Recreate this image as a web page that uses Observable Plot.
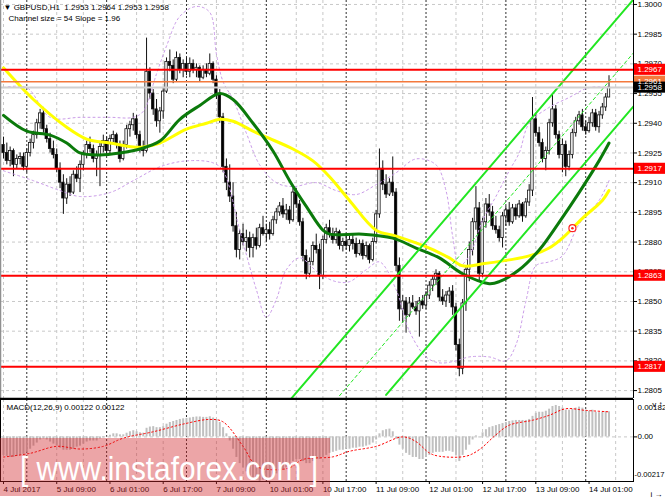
<!DOCTYPE html>
<html><head><meta charset="utf-8">
<script src="https://cdn.jsdelivr.net/npm/d3@7"></script>
<script src="https://cdn.jsdelivr.net/npm/@observablehq/plot@0.6"></script>
<style>
body{margin:0;background:#fff;}
#wrap{position:relative;width:665px;height:499px;overflow:hidden;}
#wrap svg{display:block}
#wm{position:absolute;left:0;top:438px;}
</style></head><body>
<div id="wrap"><div id="main"></div><div id="macd"></div>
<svg id="wm" width="330" height="60"><rect width="330" height="58" fill="rgb(210,40,45)" fill-opacity="0.42"></rect><text x="20" y="42" font-size="34" fill="#fff" textLength="298" lengthAdjust="spacingAndGlyphs" font-family="Liberation Sans, Arial, sans-serif">[ www.instaforex.com ]</text></svg>
</div>
<script>
// ---------- DATA (GBPUSD H1, bar 0 = 4 Jul 2017 17:00) ----------
const barOpen = [1.2929,1.2925,1.2921,1.2926,1.2919,1.2922,1.2923,1.2918,
1.2925,1.2930,1.2934,1.2940,1.2945,1.2937,1.2932,1.2927,
1.2924,1.2917,1.2910,1.2902,1.2909,1.2905,1.2914,1.2912,
1.2919,1.2924,1.2929,1.2927,1.2922,1.2924,1.2928,1.2931,
1.2926,1.2932,1.2934,1.2929,1.2922,1.2929,1.2937,1.2939,
1.2942,1.2934,1.2928,1.2926,1.2966,1.2955,1.2947,1.2941,
1.2946,1.2956,1.2971,1.2969,1.2962,1.2973,1.2967,1.2970,
1.2966,1.2970,1.2967,1.2968,1.2963,1.2967,1.2965,1.2970,
1.2962,1.2954,1.2943,1.2918,1.2910,1.2903,1.2888,1.2876,
1.2884,1.2880,1.2882,1.2877,1.2882,1.2878,1.2887,1.2884,
1.2886,1.2884,1.2891,1.2895,1.2898,1.2894,1.2896,1.2891,
1.2905,1.2899,1.2890,1.2873,1.2864,1.2870,1.2878,1.2876,
1.2863,1.2881,1.2887,1.2884,1.2881,1.2885,1.2878,1.2880,
1.2878,1.2881,1.2879,1.2874,1.2879,1.2873,1.2878,1.2871,
1.2880,1.2894,1.2917,1.2909,1.2904,1.2910,1.2905,1.2868,
1.2846,1.2850,1.2843,1.2849,1.2847,1.2845,1.2850,1.2848,
1.2853,1.2858,1.2861,1.2864,1.2852,1.2850,1.2853,1.2855,
1.2847,1.2828,1.2816,1.2849,1.2866,1.2876,1.2890,1.2897,
1.2864,1.2890,1.2899,1.2895,1.2888,1.2886,1.2882,1.2893,
1.2896,1.2890,1.2897,1.2893,1.2899,1.2893,1.2900,1.2906,
1.2942,1.2935,1.2930,1.2922,1.2926,1.2940,1.2947,1.2934,
1.2924,1.2929,1.2918,1.2924,1.2935,1.2941,1.2944,1.2938,
1.2936,1.2940,1.2945,1.2938,1.2944,1.2948,1.2953];
const barHigh = [1.2933,1.2930,1.2928,1.2927,1.2924,1.2925,1.2925,1.2927,
1.2932,1.2936,1.2942,1.2947,1.2948,1.2939,1.2935,1.2931,
1.2927,1.2920,1.2914,1.2912,1.2913,1.2916,1.2918,1.2921,
1.2926,1.2931,1.2933,1.2929,1.2926,1.2930,1.2934,1.2933,
1.2934,1.2936,1.2935,1.2931,1.2931,1.2939,1.2941,1.2945,
1.2944,1.2936,1.2931,1.2983,1.2968,1.2957,1.2952,1.2948,
1.2958,1.2973,1.2977,1.2972,1.2976,1.2975,1.2972,1.2973,
1.2973,1.2972,1.2970,1.2969,1.2969,1.2970,1.2975,1.2971,
1.2964,1.2957,1.2945,1.2922,1.2919,1.2910,1.2895,1.2886,
1.2889,1.2886,1.2885,1.2884,1.2887,1.2889,1.2893,1.2889,
1.2890,1.2893,1.2897,1.2900,1.2902,1.2899,1.2898,1.2907,
1.2907,1.2901,1.2892,1.2876,1.2872,1.2880,1.2884,1.2879,
1.2883,1.2889,1.2891,1.2887,1.2887,1.2886,1.2882,1.2884,
1.2883,1.2884,1.2882,1.2881,1.2881,1.2880,1.2879,1.2882,
1.2896,1.2927,1.2921,1.2914,1.2912,1.2923,1.2907,1.2872,
1.2853,1.2852,1.2852,1.2853,1.2850,1.2852,1.2853,1.2855,
1.2860,1.2863,1.2866,1.2865,1.2856,1.2855,1.2857,1.2858,
1.2849,1.2831,1.2851,1.2868,1.2880,1.2892,1.2908,1.2900,
1.2892,1.2902,1.2904,1.2898,1.2893,1.2888,1.2895,1.2898,
1.2900,1.2899,1.2899,1.2901,1.2900,1.2902,1.2909,1.2953,
1.2945,1.2938,1.2932,1.2928,1.2942,1.2955,1.2949,1.2936,
1.2932,1.2931,1.2926,1.2937,1.2943,1.2946,1.2947,1.2941,
1.2943,1.2947,1.2947,1.2946,1.2950,1.2955,1.2964];
const barLow = [1.2922,1.2919,1.2918,1.2913,1.2917,1.2919,1.2916,1.2915,
1.2923,1.2927,1.2932,1.2937,1.2935,1.2930,1.2925,1.2922,
1.2915,1.2907,1.2894,1.2899,1.2903,1.2904,1.2910,1.2905,
1.2916,1.2922,1.2925,1.2920,1.2913,1.2908,1.2925,1.2924,
1.2924,1.2929,1.2927,1.2920,1.2921,1.2927,1.2933,1.2936,
1.2932,1.2925,1.2923,1.2925,1.2952,1.2944,1.2938,1.2935,
1.2942,1.2955,1.2966,1.2960,1.2961,1.2965,1.2963,1.2964,
1.2963,1.2965,1.2963,1.2961,1.2962,1.2963,1.2964,1.2960,
1.2952,1.2940,1.2915,1.2906,1.2900,1.2885,1.2872,1.2871,
1.2878,1.2875,1.2872,1.2872,1.2876,1.2877,1.2883,1.2880,
1.2881,1.2883,1.2889,1.2893,1.2892,1.2891,1.2889,1.2890,
1.2897,1.2888,1.2870,1.2861,1.2862,1.2868,1.2874,1.2856,
1.2861,1.2879,1.2882,1.2879,1.2879,1.2876,1.2875,1.2876,
1.2875,1.2876,1.2872,1.2873,1.2871,1.2872,1.2869,1.2870,
1.2879,1.2892,1.2906,1.2902,1.2903,1.2903,1.2865,1.2840,
1.2839,1.2834,1.2842,1.2846,1.2843,1.2832,1.2846,1.2846,
1.2851,1.2855,1.2858,1.2850,1.2848,1.2847,1.2849,1.2843,
1.2825,1.2812,1.2813,1.2845,1.2860,1.2873,1.2886,1.2860,
1.2862,1.2887,1.2893,1.2886,1.2884,1.2880,1.2877,1.2888,
1.2888,1.2889,1.2891,1.2892,1.2890,1.2892,1.2898,1.2903,
1.2933,1.2928,1.2920,1.2916,1.2924,1.2938,1.2932,1.2922,
1.2915,1.2913,1.2916,1.2922,1.2933,1.2939,1.2936,1.2934,
1.2935,1.2938,1.2936,1.2935,1.2942,1.2946,1.2953];
const barClose = [1.2925,1.2921,1.2926,1.2919,1.2922,1.2923,1.2918,1.2925,
1.2930,1.2934,1.2940,1.2945,1.2937,1.2932,1.2927,1.2924,
1.2917,1.2910,1.2902,1.2909,1.2905,1.2914,1.2912,1.2919,
1.2924,1.2929,1.2927,1.2922,1.2924,1.2928,1.2931,1.2926,
1.2932,1.2934,1.2929,1.2922,1.2929,1.2937,1.2939,1.2942,
1.2934,1.2928,1.2926,1.2966,1.2955,1.2947,1.2941,1.2946,
1.2956,1.2971,1.2969,1.2962,1.2973,1.2967,1.2970,1.2966,
1.2970,1.2967,1.2968,1.2963,1.2967,1.2965,1.2970,1.2962,
1.2954,1.2943,1.2918,1.2910,1.2903,1.2888,1.2876,1.2884,
1.2880,1.2882,1.2877,1.2882,1.2878,1.2887,1.2884,1.2886,
1.2884,1.2891,1.2895,1.2898,1.2894,1.2896,1.2891,1.2905,
1.2899,1.2890,1.2873,1.2864,1.2870,1.2878,1.2876,1.2863,
1.2881,1.2887,1.2884,1.2881,1.2885,1.2878,1.2880,1.2878,
1.2881,1.2879,1.2874,1.2879,1.2873,1.2878,1.2871,1.2880,
1.2894,1.2917,1.2909,1.2904,1.2910,1.2905,1.2868,1.2846,
1.2850,1.2843,1.2849,1.2847,1.2845,1.2850,1.2848,1.2853,
1.2858,1.2861,1.2864,1.2852,1.2850,1.2853,1.2855,1.2847,
1.2828,1.2816,1.2849,1.2866,1.2876,1.2890,1.2897,1.2864,
1.2890,1.2899,1.2895,1.2888,1.2886,1.2882,1.2893,1.2896,
1.2890,1.2897,1.2893,1.2899,1.2893,1.2900,1.2906,1.2942,
1.2935,1.2930,1.2922,1.2926,1.2940,1.2947,1.2934,1.2924,
1.2929,1.2918,1.2924,1.2935,1.2941,1.2944,1.2938,1.2936,
1.2940,1.2945,1.2938,1.2944,1.2948,1.2953,1.2958];

// moving averages and bands read at sample bars: [bar, price]
const maYellow = [[0,1.2968],[9,1.2952],[19,1.2938],[25,1.2932],[32,1.2930],[39,1.2928],[42,1.2928],[47,1.2930],[55,1.2937],[61,1.2940],[65,1.2942],[69,1.2941],[75,1.2936],[79,1.2933],[87,1.2927],[93,1.2921],[98,1.2913],[104,1.2901],[112,1.2886],[118,1.2883],[128,1.2877],[134,1.2872],[138,1.2868],[144,1.2869],[152,1.2871],[158,1.2873],[164,1.2877],[168,1.2882],[174,1.2892],[180,1.2901],[182,1.2906]];
const maGreen = [[0,1.2944],[7,1.2936],[14,1.2934],[19,1.2930],[23,1.2925],[29,1.2924],[35,1.2925],[41,1.2927],[47,1.2931],[53,1.2942],[59,1.2949],[65,1.2955],[69,1.2952],[75,1.2940],[81,1.2926],[86,1.2911],[91,1.2898],[96,1.2886],[98,1.2884],[108,1.2884],[117,1.2882],[124,1.2877],[131,1.2872],[138,1.2864],[146,1.2859],[149,1.2860],[155,1.2866],[161,1.2876],[167,1.2890],[173,1.2905],[179,1.2921],[182,1.2930]];
const bandUpper = [[0,1.2958],[7,1.2958],[14,1.2943],[23,1.2943],[32,1.2943],[39,1.2943],[42,1.2946],[46,1.2965],[49,1.2979],[53,1.2994],[58,1.2999],[62,1.2996],[64,1.2975],[66,1.2961],[69,1.2952],[73,1.2935],[77,1.2919],[82,1.2910],[87,1.2908],[94,1.2910],[100,1.2906],[106,1.2904],[112,1.2909],[118,1.2915],[124,1.2922],[130,1.2919],[133,1.2906],[135,1.2883],[137,1.2868],[140,1.2873],[144,1.2891],[148,1.2903],[152,1.2916],[155,1.2925],[158,1.2940],[164,1.2948],[170,1.2953],[176,1.2958],[182,1.2958]];
const bandLower = [[0,1.2916],[9,1.2911],[17,1.2906],[23,1.2903],[32,1.2905],[39,1.2911],[47,1.2918],[55,1.2921],[63,1.2920],[66,1.2916],[71,1.2886],[76,1.2856],[79,1.2842],[82,1.2851],[85,1.2866],[89,1.2872],[95,1.2864],[100,1.2860],[104,1.2860],[109,1.2866],[113,1.2870],[118,1.2856],[122,1.2835],[127,1.2822],[131,1.2819],[136,1.2820],[140,1.2822],[146,1.2822],[151,1.2820],[154,1.2828],[157,1.2850],[160,1.2868],[164,1.2870],[168,1.2873],[173,1.2889],[179,1.2901],[182,1.2911]];

// equidistant channel (size 54 pips, slope 1.96 pips/bar): [bar, price] end points
const channelUpper = [[86,1.2800],[190,1.30038]];
const channelMiddle = [[101,1.28024],[190,1.29768]];
const channelLower = [[115,1.28028],[190,1.29498]];

const redLevels = [1.2967, 1.2917, 1.2863, 1.2817];
const orangeLevel = 1.2961;
const bidLevel = 1.2958;
const arrowMark = [[171, 1.2887]];

const priceTicks = [1.2805,1.2820,1.2835,1.2850,1.2865,1.2880,1.2895,1.2910,1.2925,1.2940,1.2955,1.2970,1.2985,1.3000];
const timeTickBars = [0,16,32,48,64,80,96,112,128,144,160,176];
const timeTickLabels = ["4 Jul 2017","5 Jul 09:00","6 Jul 01:00","6 Jul 17:00","7 Jul 09:00","10 Jul 01:00","10 Jul 17:00","11 Jul 09:00","12 Jul 01:00","12 Jul 17:00","13 Jul 09:00","14 Jul 01:00"];
const daySeparatorBars = [7,31,55,79,103,127,151,175];
const gridBars = [0,16,24,40,48,64,72,88,96,112,120,136,144,160,168,184];

const macdHist = [-0.00090,-0.00095,-0.00100,-0.00100,-0.00095,-0.00090,-0.00085,-0.00075,
-0.00060,-0.00045,-0.00030,-0.00015,-0.00010,-0.00015,-0.00025,-0.00035,
-0.00045,-0.00055,-0.00065,-0.00065,-0.00065,-0.00060,-0.00050,-0.00045,
-0.00035,-0.00025,-0.00020,-0.00020,-0.00020,-0.00010,-0.00005,0.00002,
0.00008,0.00015,0.00015,0.00010,0.00010,0.00018,0.00025,0.00030,
0.00025,0.00020,0.00018,0.00042,0.00048,0.00050,0.00045,0.00045,
0.00050,0.00062,0.00070,0.00075,0.00080,0.00085,0.00088,0.00090,
0.00092,0.00095,0.00097,0.00097,0.00095,0.00095,0.00098,0.00092,
0.00085,0.00070,0.00045,0.00015,-0.00020,-0.00060,-0.00100,-0.00130,
-0.00150,-0.00170,-0.00190,-0.00200,-0.00210,-0.00217,-0.00210,-0.00210,
-0.00200,-0.00190,-0.00180,-0.00170,-0.00160,-0.00150,-0.00140,-0.00120,
-0.00110,-0.00110,-0.00120,-0.00130,-0.00130,-0.00120,-0.00110,-0.00110,
-0.00100,-0.00090,-0.00080,-0.00075,-0.00070,-0.00065,-0.00065,-0.00060,
-0.00060,-0.00055,-0.00055,-0.00050,-0.00050,-0.00045,-0.00040,-0.00030,
-0.00015,0.00015,0.00030,0.00035,0.00038,0.00025,-0.00010,-0.00040,
-0.00060,-0.00080,-0.00090,-0.00100,-0.00100,-0.00110,-0.00110,-0.00100,
-0.00090,-0.00080,-0.00075,-0.00075,-0.00075,-0.00070,-0.00070,-0.00075,
-0.00090,-0.00120,-0.00090,-0.00065,-0.00040,-0.00015,0.00005,-0.00005,
0.00020,0.00035,0.00045,0.00050,0.00055,0.00060,0.00065,0.00070,
0.00075,0.00078,0.00080,0.00080,0.00080,0.00080,0.00085,0.00100,
0.00115,0.00120,0.00120,0.00125,0.00135,0.00148,0.00153,0.00148,
0.00140,0.00130,0.00130,0.00135,0.00140,0.00145,0.00140,0.00130,
0.00125,0.00130,0.00120,0.00118,0.00120,0.00122,0.00122];
const macdSignal = [[0,-0.00098],[8,-0.00080],[16,-0.00046],[23,-0.00059],[30,-0.00046],[36,-0.00006],[45,0.00025],[55,0.00066],[62,0.00085],[66,0.00073],[72,-0.00046],[76,-0.00142],[81,-0.00160],[86,-0.00150],[90,-0.00110],[99,-0.00097],[104,-0.00070],[112,-0.00046],[120,0.00000],[124,-0.00023],[128,-0.00078],[131,-0.00094],[139,-0.00094],[143,-0.00062],[148,0.00010],[152,0.00057],[159,0.00081],[164,0.00105],[169,0.00137],[175,0.00129],[182,0.00122]];
const macdScale = [-0.00217, 0.00182];

// ---------- CHART ----------
const FONT = '"Liberation Sans", Arial, sans-serif';
const xDomain = [-0.902, 189.36];
const xEnd = xDomain[1];
const fmt4 = d3.format(".4f");
const bars = barOpen.map((o, i) => ({i, o, h: barHigh[i], l: barLow[i], c: barClose[i]}));
const pts = a => a.map(([i, p]) => ({i, p}));
const boxes = [
  ...redLevels.map(p => ({p, fill: "#ff0000", text: "#fff"})),
  {p: orangeLevel, fill: "#f4793c", text: "#fff"},
  {p: bidLevel, fill: "#000", text: "#fff"}
];
const BAND = "#c99ae8";
const LIME = "#22e622";

const main = Plot.plot({
  width: 665, height: 398,
  marginTop: 0, marginBottom: 0, marginLeft: 0, marginRight: 32,
  style: {fontFamily: FONT, fontSize: "8px", background: "#fff", overflow: "visible", color: "#000"},
  x: {domain: xDomain, axis: null},
  y: {domain: [1.28010, 1.30020], axis: null},
  marks: [
    Plot.ruleY(priceTicks, {stroke: "#c8c8c8", strokeDasharray: "3,3"}),
    Plot.ruleX(gridBars, {stroke: "#c8c8c8", strokeDasharray: "3,3"}),
    Plot.ruleX(daySeparatorBars, {stroke: "#303030", strokeDasharray: "2,2"}),
    Plot.ruleX(bars, {x: "i", y1: "l", y2: "h", stroke: "#111", strokeWidth: 1}),
    Plot.rect(bars, {x1: d => d.i - 0.36, x2: d => d.i + 0.36, y1: "o", y2: "c", fill: d => d.c >= d.o ? "#fff" : "#000", stroke: "#111", strokeWidth: 0.8}),
    Plot.line(pts(bandUpper), {x: "i", y: "p", stroke: BAND, strokeWidth: 1, strokeDasharray: "2,3", curve: "catmull-rom"}),
    Plot.line(pts(bandLower), {x: "i", y: "p", stroke: BAND, strokeWidth: 1, strokeDasharray: "2,3", curve: "catmull-rom"}),
    Plot.line(pts(maYellow), {x: "i", y: "p", stroke: "#ffff00", strokeWidth: 3, curve: "catmull-rom"}),
    Plot.line(pts(maGreen), {x: "i", y: "p", stroke: "#0b7a0b", strokeWidth: 3, curve: "catmull-rom"}),
    Plot.line(pts(channelUpper), {x: "i", y: "p", stroke: LIME, strokeWidth: 2, clip: true}),
    Plot.line(pts(channelMiddle), {x: "i", y: "p", stroke: LIME, strokeWidth: 1, strokeDasharray: "3,3", clip: true}),
    Plot.line(pts(channelLower), {x: "i", y: "p", stroke: LIME, strokeWidth: 2, clip: true}),
    Plot.ruleY([bidLevel], {stroke: "#d0d0d0", strokeWidth: 2}),
    Plot.ruleY([orangeLevel], {stroke: "#f4793c", strokeWidth: 1.5}),
    Plot.ruleY(redLevels, {stroke: "#ff0000", strokeWidth: 2}),
    Plot.dot(pts(arrowMark), {x: "i", y: "p", r: 3.5, stroke: "#ff2020", fill: "#fff", strokeWidth: 1.2}),
    Plot.dot(pts(arrowMark), {x: "i", y: "p", r: 1.3, fill: "#ff2020"}),
    Plot.ruleX([xEnd], {stroke: "#000"}),
    Plot.ruleX([xDomain[0]], {stroke: "#909090", strokeWidth: 1.5}),
    Plot.ruleY([1.28010], {stroke: "#000", strokeWidth: 1.5}),
    Plot.axisY({anchor: "right", ticks: priceTicks, tickFormat: fmt4, tickSize: 3, tickPadding: 1, fontSize: 8}),
    Plot.rect(boxes, {x1: () => xEnd + 0.3, x2: () => xEnd + 9.7, y1: d => d.p - 0.00028, y2: d => d.p + 0.00028, fill: "fill"}),
    Plot.text(boxes, {x: () => xEnd, y: "p", text: d => fmt4(d.p), dx: 4, textAnchor: "start", fill: "text", fontSize: 8}),
    Plot.text(["\u25BC GBPUSD,H1  1.2953 1.2964 1.2953 1.2958"], {frameAnchor: "top-left", dx: 3, dy: 4, fontSize: 8, fill: "#000"}),
    Plot.text(["Channel size = 54 Slope = 1.96"], {frameAnchor: "top-left", dx: 8, dy: 15, fontSize: 8, fill: "#000"})
  ]
});
document.getElementById("main").append(main);

const hist = macdHist.map((v, i) => ({i, v}));
const sig = macdSignal.map(([i, v]) => ({i, v}));
const macd = Plot.plot({
  width: 665, height: 101,
  marginTop: 1, marginBottom: 18, marginLeft: 0, marginRight: 32,
  style: {fontFamily: FONT, fontSize: "8px", background: "#fff", overflow: "visible", color: "#000"},
  x: {domain: xDomain, axis: null},
  y: {domain: macdScale, axis: null},
  marks: [
    Plot.ruleY([0], {stroke: "#c8c8c8", strokeDasharray: "3,3"}),
    Plot.ruleX(gridBars, {stroke: "#c8c8c8", strokeDasharray: "3,3"}),
    Plot.ruleX(daySeparatorBars, {stroke: "#303030", strokeDasharray: "2,2"}),
    Plot.ruleX(hist, {x: "i", y1: 0, y2: "v", stroke: "#c0c0c0", strokeWidth: 2}),
    Plot.line(sig, {x: "i", y: "v", stroke: "#ff0000", strokeWidth: 1, strokeDasharray: "1.5,2.5", curve: "catmull-rom"}),
    Plot.frame({stroke: "#000"}),
    Plot.axisX({ticks: timeTickBars, tickFormat: d => timeTickLabels[timeTickBars.indexOf(d)], tickSize: 3, tickPadding: 2, textAnchor: "start", fontSize: 8}),
    Plot.axisY({anchor: "right", ticks: [0], tickFormat: () => "", tickSize: 3}),
    Plot.text([macdScale[1]], {x: () => xEnd, y: d => d, text: d => d.toFixed(5), dx: 4, dy: 8, textAnchor: "start", fontSize: 8}),
    Plot.text([0], {x: () => xEnd, y: d => d, text: () => "0.00", dx: 4, textAnchor: "start", fontSize: 8}),
    Plot.text([macdScale[0]], {x: () => xEnd, y: d => d, text: d => d.toFixed(5), dx: 1, dy: -7, textAnchor: "start", fontSize: 7.6}),
    Plot.text(["MACD(12,26,9) 0.00122 0.00122"], {frameAnchor: "top-left", dx: 6, dy: 5, fontSize: 8, fill: "#000"})
  ]
});
document.getElementById("macd").append(macd);
</script></body></html>
